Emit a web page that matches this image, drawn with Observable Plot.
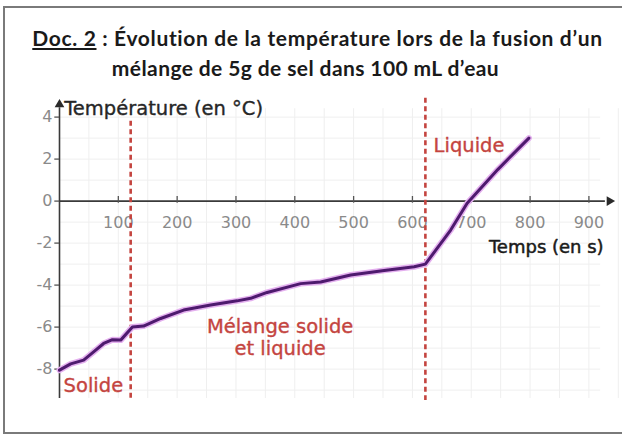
<!DOCTYPE html>
<html>
<head>
<meta charset="utf-8">
<script src="https://cdn.jsdelivr.net/npm/d3@7"></script>
<script src="https://cdn.jsdelivr.net/npm/@observablehq/plot@0.6"></script>
<style>
  body { margin: 0; background: #fff; }
  #wrap { position: relative; width: 622px; height: 435px; overflow: hidden; background: #fff; }
  #box { position: absolute; left: 3px; top: 6px; width: 660px; height: 424px; border: 2.5px solid #7a7a7a; border-right: none; }
  .t { position: absolute; left: 0; text-align: center; font-family: "Lato", sans-serif; font-weight: 700; font-size: 21px; letter-spacing: 0.65px; line-height: 24px; color: #1a1a1a; white-space: nowrap; }
  #t1 { top: 26px; width: 635px; }
  #t2 { top: 56px; width: 611px; letter-spacing: 0.4px; }
  #t1 u { text-decoration-thickness: 1.5px; text-underline-offset: 2px; }
  #chart { position: absolute; left: 0; top: 90px; }
</style>
</head>
<body>
<div id="wrap">
  <div id="box"></div>
  <div class="t" id="t1"><u>Doc. 2</u> : Évolution de la température lors de la fusion d’un</div>
  <div class="t" id="t2">mélange de 5g de sel dans 100 mL d’eau</div>
  <div id="chart"></div>
</div>
<script>
// Data
const temps = [0, 19, 41, 58, 75, 90, 104, 124, 143, 172, 211, 257, 302, 325, 353, 410, 444, 495, 552, 603, 622, 665, 693, 745, 798];
const temperature = [-8.05, -7.75, -7.57, -7.18, -6.78, -6.6, -6.62, -6.0, -5.95, -5.59, -5.19, -4.95, -4.75, -4.63, -4.35, -3.93, -3.85, -3.52, -3.3, -3.13, -3.0, -1.38, -0.1, 1.5, 3.0];
const xTicks = [100, 200, 300, 400, 500, 600, 700, 800, 900];
const yTicks = [-8, -6, -4, -2, 0, 2, 4];
const gridX = d3.range(0, 951, 50);
const gridY = d3.range(-9, 5, 1);
const phaseT = [121, 622];
const phaseTop = [3.8, 4.9];
const phaseBottom = [-9.5, -9.5];

const curve = temps.map((t, i) => ({t, v: temperature[i]}));
const phases = phaseT.map((t, i) => ({t, top: phaseTop[i], bottom: phaseBottom[i]}));

const red = "#c4443f";
const axisFont = "'DejaVu Sans', sans-serif";

const chart = Plot.plot({
  width: 622,
  height: 345,
  marginLeft: 59,
  marginRight: 13,
  marginTop: 14,
  marginBottom: 37,
  x: {domain: [0, 935], axis: null},
  y: {domain: [-9.4, 4.6], axis: null},
  style: {fontFamily: axisFont, background: "transparent", overflow: "visible"},
  marks: [
    Plot.ruleX(gridX, {x: d => d, y1: -9.4, y2: 4.4, stroke: "#efefef", strokeWidth: 1}),
    Plot.ruleY(gridY, {y: d => d, x1: 0, x2: 920, stroke: "#efefef", strokeWidth: 1}),
    // axes
    Plot.ruleY([0], {x1: 0, x2: 928, stroke: "#3a3a3a", strokeWidth: 1.6}),
    Plot.ruleX([0], {y1: -9.4, y2: 4.45, stroke: "#3a3a3a", strokeWidth: 1.6}),
    Plot.dot([{x: 935, y: 0}], {x: "x", y: "y", symbol: "triangle", r: 3.6, fill: "#2a2a2a", stroke: null, rotate: 90}),
    Plot.dot([{x: 0, y: 4.6}], {x: "x", y: "y", symbol: "triangle", r: 3.6, fill: "#2a2a2a", stroke: null}),
    // ticks
    Plot.ruleX(xTicks, {x: d => d, y1: -0.1, y2: 0.22, stroke: "#555", strokeWidth: 1.3}),
    Plot.text(xTicks, {x: d => d, y: 0, dy: 22, text: d => String(d), fill: "#8a8a8a", fontSize: 16}),
    Plot.ruleY(yTicks, {y: d => d, x1: -8, x2: 0, stroke: "#555", strokeWidth: 1.3}),
    Plot.text(yTicks, {x: 0, y: d => d, dx: -7, text: d => String(d), textAnchor: "end", fill: "#8a8a8a", fontSize: 16}),
    // phase boundaries
    Plot.ruleX(phases, {x: "t", y1: "top", y2: "bottom", stroke: red, strokeWidth: 2.6, strokeDasharray: "5,3.5"}),
    // curve
    Plot.line(curve, {x: "t", y: "v", stroke: "#e4b0ef", strokeWidth: 6, strokeLinejoin: "round", strokeLinecap: "round"}),
    Plot.line(curve, {x: "t", y: "v", stroke: "#4e1a6e", strokeWidth: 3, strokeLinejoin: "round", strokeLinecap: "round"}),
    // labels
    Plot.text(["Température (en °C)"], {x: 8, y: 4.41, text: d => d, textAnchor: "start", fill: "#262626", stroke: "#262626", strokeWidth: 0.35, fontSize: 19.5}),
    Plot.text(["Temps (en s)"], {x: 925, y: -2.2, text: d => d, textAnchor: "end", fill: "#1a1a1a", stroke: "#1a1a1a", strokeWidth: 0.5, fontSize: 18}),
    Plot.text(["Liquide"], {x: 636, y: 2.65, text: d => d, textAnchor: "start", fill: red, stroke: red, strokeWidth: 0.35, fontSize: 19.5}),
    Plot.text(["Solide"], {x: 7, y: -8.78, text: d => d, textAnchor: "start", fill: red, stroke: red, strokeWidth: 0.35, fontSize: 19.5}),
    Plot.text(["Mélange solide\net liquide"], {x: 375, y: -6.47, text: d => d, textAnchor: "middle", fill: red, stroke: red, strokeWidth: 0.35, fontSize: 19.5, lineHeight: 1.15})
  ]
});
document.getElementById("chart").appendChild(chart);
</script>
</body>
</html>
